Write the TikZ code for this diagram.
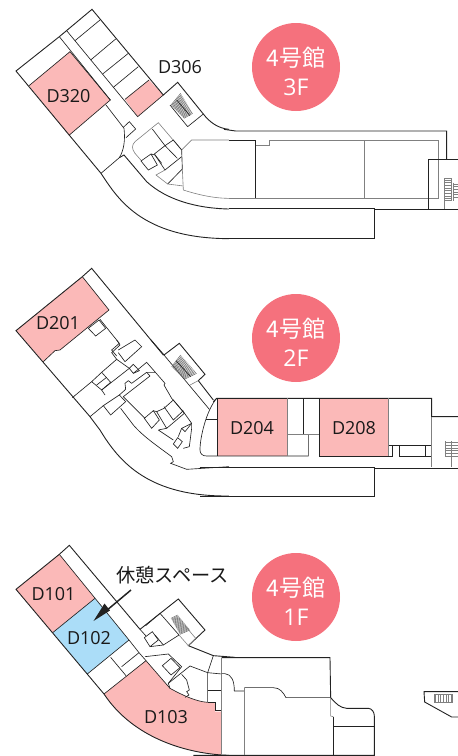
\documentclass[tikz,border=0pt]{standalone}
\usepackage{fontspec}
\usetikzlibrary{calc}
\setmainfont{Open Sans}
\newfontfamily\jpfont{Noto Sans CJK JP}
\definecolor{pinkroom}{HTML}{FBB9B8}
\definecolor{blueroom}{HTML}{ABDDF8}
\definecolor{badge}{HTML}{F5717D}
\definecolor{wall}{HTML}{222222}
\definecolor{greywall}{HTML}{808080}
\tikzset{
 zoomed/.style={x=.33333pt,y=-.33333pt,shift={#1}},
 outer/.style={draw=wall,line width=.9pt,line join=miter},
 inner/.style={draw=wall,line width=.65pt},
 soft/.style={draw=greywall,line width=.8pt},
 thinsoft/.style={draw=greywall,line width=.6pt},
 hatchline/.style={draw=greywall,line width=.45pt},
 treadline/.style={draw=black!60,line width=.5pt},
 roomlabel/.style={font=\fontsize{18}{20}\selectfont,text=black!90,inner sep=0pt},
 badgecircle/.style={circle,fill=badge,minimum size=88pt,inner sep=0pt},
 badgetext/.style={inner sep=0pt,text=white,align=center,font=\fontsize{23}{28.5}\selectfont\jpfont}
}
% stair hatch: treads between the edges a-b and d-c
\newcommand{\stairhatch}[4]{%
  \foreach \n in {0,...,19}{%
    \pgfmathsetmacro{\t}{\n/19}%
    \draw[treadline] ($#1!\t!#2$) -- ($#4!\t!#3$);
  }%
}
\begin{document}
\begin{tikzpicture}[x=1pt,y=-1pt]
\useasboundingbox (0,0) rectangle (458,756);

% ===== 3F =====
\begin{scope}[zoomed={(0,0)}]
\fill[pinkroom] (87,257)--(210,155)--(331,300)--(207,406)--cycle;
\fill[pinkroom] (375,298)--(447,240)--(490,285)--(413,350)--cycle;
\draw[inner] (87,257)--(210,155)--(331,300)--(207,406);
\draw[inner] (375,298)--(447,240);
\draw[outer] (178,110)--(48,213)--(303,520) .. controls (350,590) and (420,715) .. (687,716);
\draw[outer] (178,110)--(276,28)--(490,285)--(533,247)--(610,342) .. controls (630,368) and (655,385) .. (687,388);
\draw[inner] (178,110)--(331,300) (200,92)--(413,350)--(490,285);
\draw[inner] (225,122)--(300,60) (272,180)--(347,117) (308,222)--(385,160) (340,262)--(415,200);
\draw[inner] (318,315)--(372,385) .. controls (376,420) and (372,450) .. (358,473)--(303,520);
\draw[inner] (370,382)--(388,365)--(407,387)--(378,413);
\draw[outer] (358,473)--(372,465)--(440,545) .. controls (500,600) and (590,625) .. (687,627);
\draw[inner] (563,380)--(610,342) (563,380)--(510,315);
\end{scope}
\begin{scope}[zoomed={(360,225)}]
\stairhatch{(153,90)}{(192,130)}{(218,115)}{(182,55)}
\draw[inner] (170,75)--(210,122);
% inner block
\draw[thinsoft] (185,225)--(215,195)--(327,195);
\draw[thinsoft] (185,225)--(115,143)--(45,200) .. controls (35,210) and (35,222) .. (45,235)--(65,258);
\draw[inner] (97,162)--(135,212)--(160,195)--(185,225) (135,212)--(172,250);
\draw[inner] (103,237)--(135,212) (103,237)--(125,265);
\draw[inner] (63,258)--(93,237)--(112,270)--(85,285)--cycle;
\draw[inner] (93,237)--(105,240)--(135,285)--(185,245);
\draw[inner] (185,225)--(187,282)--(143,327);
\draw[thinsoft] (135,285)--(108,300)--(143,327)--(190,333);
\draw[thinsoft] (187,282)--(190,345);
\draw[thinsoft] (190,345) .. controls (230,358) and (280,370) .. (327,370);
\end{scope}
\begin{scope}[zoomed={(687,300)}]
\draw[outer] (-15,88)--(20,93)--(653,93)--(653,178);
\draw[inner] (0,121)--(80,121)--(80,296);
\draw[soft] (80,135)--(122,135)--(122,121)--(628,121)--(628,296)--(0,296);
\draw[soft] (405,121)--(405,296);
\draw[inner] (598,328)--(598,178)--(687,178);
\draw[outer] (0,325)--(435,325)--(435,416)--(0,416);
\draw[outer] (435,328)--(687,328);
\draw[thinsoft] (646,235)--(646,328);
\foreach \a in {0,...,7} \draw[hatchline,line width=.7pt] (646,240+\a*8)--(668,240+\a*8);
\draw[hatchline] (646,235)--(668,235)--(668,300)--(646,300);
\foreach \a in {0,...,5} \draw[hatchline,line width=.7pt] (672,252+\a*8)--(687,252+\a*8);
\draw[hatchline] (672,248)--(672,302);
\end{scope}

% ===== 2F =====
\begin{scope}[zoomed={(0,780)}]
\fill[pinkroom] (48,212)--(247,50)--(327,150)--(180,270)--(165,272)--(130,305)--cycle;
\draw[inner] (247,50)--(327,150)--(180,270)--(165,272)--(130,305);
\draw[outer] (247,50)--(48,212)--(270,470)--(300,510) .. controls (360,610) and (450,710) .. (687,708);
\draw[outer] (247,50)--(275,25)--(490,285);
\draw[inner] (300,178)--(358,250)--(335,270)--(350,288);
\draw[inner] (265,205)--(297,180)--(317,205)--(287,228)--cycle;
\end{scope}
\begin{scope}[zoomed={(270,1020)}]
\draw[outer] (183,0)--(222,45)--(268,10)--(345,103)--(325,122)--(370,180);
\draw[inner] (222,45)--(358,208);
\draw[thinsoft] (300,135)--(325,122);
\stairhatch{(245,80)}{(283,118)}{(320,100)}{(272,45)}
\draw[inner] (258,62)--(302,110);
\draw[inner] (80,0)--(90,15)--(65,38)--(80,58)--(35,97);
\draw[inner] (85,30)--(135,0)--(155,20)--(105,65)--(85,38);
\draw[inner] (5,125)--(35,97)--(62,127)--(35,150)--cycle;
\draw[inner] (20,135)--(50,112);
\draw[inner] (5,125)--(-53,173);
\draw[inner] (35,150)--(118,85)--(130,73)--(148,92)--(130,100)--(118,85);
\draw[inner] (80,58)--(118,85);
\draw[inner] (130,100)--(170,67)--(225,130)--(222,135)--(245,175)--(280,215)--(305,250)--(305,265)--(298,320)--(280,325);
\draw[inner] (88,165)--(107,148)--(105,130)--(115,122)--(125,130)--(170,97)--(195,97);
\draw[inner] (170,97)--(180,108)--(100,170)--(165,235);
\draw[inner] (40,197)--(88,165)--(107,185)--(62,225)--cycle;
\draw[inner] (40,197)--(0,230);
\draw[inner] (35,150)--(45,165);
\draw[inner] (163,235)--(190,212)--(208,240)--(185,265)--cycle;
\draw[inner] (190,212)--(200,215)--(230,265)--(283,220)--(250,180)--(222,205)--(200,215);
\draw[inner] (222,200)--(250,240)--(280,212);
\draw[inner] (205,270)--(230,265) (205,270)--(250,300);
\draw[inner] (250,312)--(263,293)--(277,305)--(263,325)--cycle;
\draw[inner] (265,290)--(275,265)--(305,250);
\draw[inner] (275,265)--(285,275)--(305,250);
\draw[inner] (92,205)--(130,255) .. controls (160,290) and (205,320) .. (245,350)--(250,365)--(242,370)--(290,388)--(417,380);
\end{scope}
\begin{scope}[zoomed={(600,1140)}]
\fill[pinkroom] (52,55) rectangle (262,228);
\fill[pinkroom] (358,55) rectangle (566,228);
\draw[outer] (40,65)--(50,55)--(695,55)--(695,110)--(774,110);
\draw[inner] (50,55) .. controls (20,90) and (0,170) .. (0,210) .. controls (0,222) and (8,228) .. (20,228)--(325,228)--(325,163);
\draw[inner] (18,118)--(52,118) (52,55)--(52,228) (310,55)--(310,163);
\draw[soft,line width=1pt] (262,55)--(262,228) (262,163)--(358,163) (566,55)--(566,228);
\draw[inner] (358,55)--(358,228)--(578,228)--(578,197) (566,197)--(695,197);
\draw[inner] (598,197)--(598,228)--(695,228) (676,197)--(676,228);
\draw[thinsoft] (695,110)--(695,262);
\draw[outer] (-1,262)--(523,262)--(523,350)--(-1,350);
\draw[outer] (523,264)--(774,264);
\foreach \a in {0,...,5} \draw[hatchline,line width=.7pt] (735,188+\a*8)--(774,188+\a*8);
\draw[hatchline] (735,183)--(735,230) (755,183)--(755,262);
\end{scope}

% ===== 1F =====
\begin{scope}[zoomed={(0,1590)}]
\fill[pinkroom] (48,178)--(178,73)--(285,205)--(158,308)--cycle;
\fill[blueroom] (158,308)--(285,205)--(387,330)--(262,432)--cycle;
\fill[pinkroom] (312,492)--(438,392)--(510,475) .. controls (550,497) and (590,515) .. (623,517)--(645,520)--(645,545)--(665,545)--(665,675) .. controls (530,665) and (390,610) .. (312,492)--cycle;
\draw[outer] (178,73)--(48,178)--(312,492) .. controls (390,610) and (530,665) .. (665,675)--(687,676);
\draw[outer] (178,73)--(208,46)--(420,298);
\draw[inner] (178,73)--(387,330)--(417,368) (158,308)--(285,205) (262,432)--(387,330) (312,492)--(438,392);
\draw[inner] (332,382)--(378,437) (365,410)--(417,368) (417,368)--(438,392);
\draw[inner] (420,298)--(438,318);
\draw[inner] (438,392)--(510,475);
\end{scope}
\begin{scope}[zoomed={(405,1785)}]
\draw[outer] (15,103)--(130,12)--(210,105)--(160,152)--(235,182)--(300,187);
\stairhatch{(108,70)}{(135,118)}{(165,105)}{(128,60)}
\draw[inner] (32,92)--(75,55)--(132,120)--(85,150)--(60,120);
\draw[inner] (28,128)--(52,110)--(70,135)--(45,155)--cycle;
\draw[inner] (45,155)--(85,150);
\draw[thinsoft] (132,120)--(160,152) (160,152)--(182,130)--(150,92);
\draw[inner] (30,185)--(100,177)--(140,215)--(100,265)--(105,280);
\draw[inner] (82,212)--(108,190)--(135,218)--(108,240)--cycle;
\draw[inner] (100,265)--(165,213)--(218,233)--(260,237);
\draw[inner] (140,238)--(155,255)--(163,285)--(155,290)--(162,300)--(150,307);
\draw[inner] (105,280) .. controls (145,302) and (185,320) .. (218,322);
\draw[inner] (218,233)--(235,182) (218,233)--(218,322);
\draw[inner] (218,287)--(260,287) (218,322)--(240,322)--(240,345)--(260,345);
\end{scope}
\begin{scope}[zoomed={(600,1908)}]
\draw[outer] (65,65)--(390,65)--(392,185) .. controls (410,205) and (420,215) .. (440,217)--(505,217) .. controls (515,217) and (523,228) .. (523,240)--(523,358)--(-20,358);
\draw[soft,line width=.9pt] (65,65)--(65,358);
\draw[inner] (65,113)--(75,113) .. controls (95,115) and (103,135) .. (103,165)--(133,165);
\draw[soft,line width=.9pt] (133,155)--(133,358);
\draw[inner] (133,155)--(220,155) .. controls (240,155) and (250,170) .. (258,185)--(392,185);
\draw[thinsoft] (392,185)--(392,240)--(400,242);
\draw[inner] (400,270)--(523,270);
\draw[inner] (400,242)--(400,358);
\draw[outer] (774,167)--(672,167)--(674,198)--(755,243)--(774,243);
\draw[hatchline] (702,175) rectangle (758,200);
\foreach \a in {0,...,6} \draw[hatchline,line width=.9pt] (706+\a*8,175)--(706+\a*8,200);
\end{scope}

% ===== labels =====
\node[roomlabel] (d320) at (68.5,96) {D320};
\node[roomlabel] (d306) at (180,67.5) {D306};
\node[roomlabel] (d201) at (58,323) {D201};
\node[roomlabel] (d204) at (252,428) {D204};
\node[roomlabel] (d208) at (354,428) {D208};
\node[roomlabel] (d101) at (53.5,594) {D101};
\node[roomlabel] (d102) at (89,638) {D102};
\node[roomlabel] (d103) at (166,717) {D103};
\node[font=\fontsize{19.2}{22}\selectfont\jpfont,text=black!90,inner sep=0pt] (rest) at (172.5,575) {休憩スペース};
\coordinate (restTail) at (131,590);
\coordinate (restTip) at (93.5,621);
\fill[wall] (restTip)--(104.5,603.5)--(110,610.5)--cycle;
\draw[wall,line width=1.5pt] (restTail)--(106,611);

\node[badgecircle] (b3) at (296,67) {};
\node[badgecircle] (b2) at (296,338) {};
\node[badgecircle] (b1) at (296,597) {};
\node[badgetext] (t3) at (296,71.5) {4号館\\{\fontspec{Open Sans}3F}};
\node[badgetext] (t2) at (296,342.5) {4号館\\{\fontspec{Open Sans}2F}};
\node[badgetext] (t1) at (296,601.5) {4号館\\{\fontspec{Open Sans}1F}};
\end{tikzpicture}
\end{document}
